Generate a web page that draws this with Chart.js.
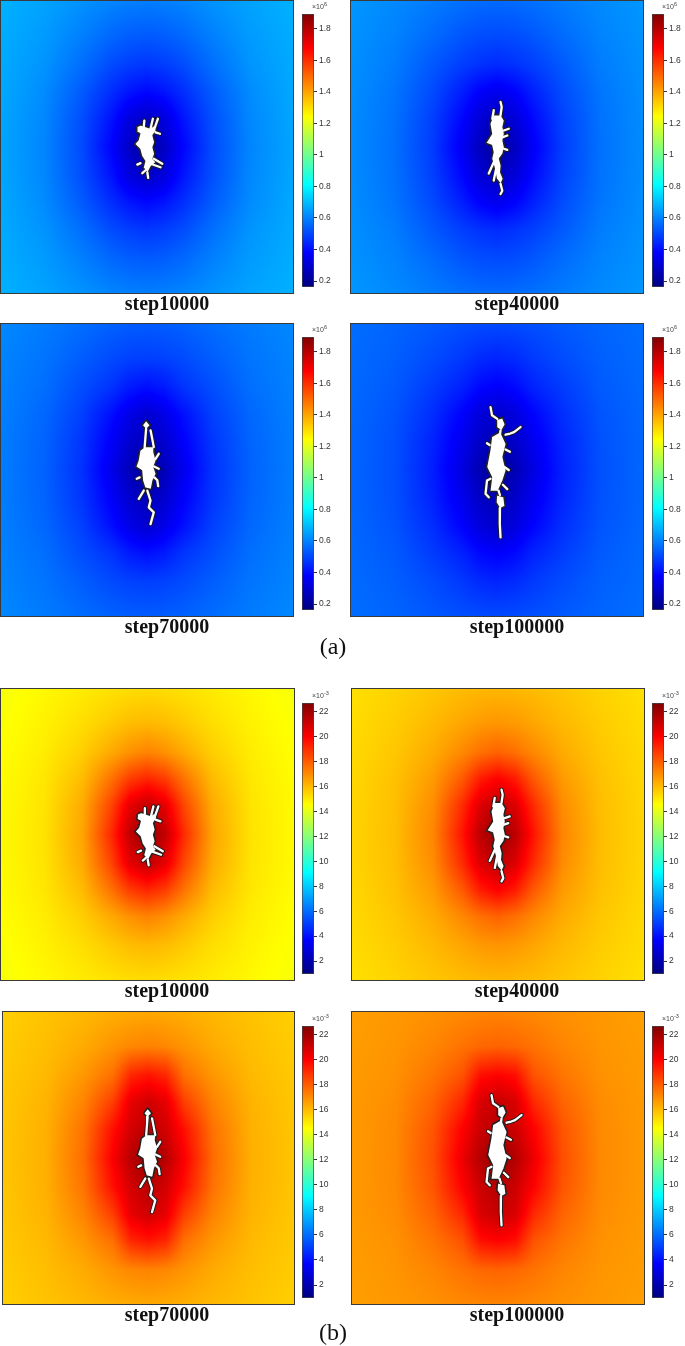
<!DOCTYPE html>
<html><head><meta charset="utf-8">
<script src="https://cdn.jsdelivr.net/npm/chart.js@4.4.1/dist/chart.umd.min.js"></script>
<style>
html,body{margin:0;padding:0;background:#fff;}
#fig{position:relative;width:685px;height:1346px;overflow:hidden;background:#fff;}
#fig canvas{position:absolute;}
.lab{position:absolute;width:335px;text-align:center;font-family:"Liberation Serif","Times New Roman",serif;font-weight:bold;font-size:20px;line-height:20px;color:#111;white-space:nowrap;}
.sub{position:absolute;width:80px;text-align:center;font-family:"Liberation Serif","Times New Roman",serif;font-size:24px;line-height:24px;color:#111;}
.exp{position:absolute;font-family:"Liberation Sans",Arial,sans-serif;font-size:7px;line-height:8px;color:#444;white-space:nowrap;}
.exp sup{font-size:5.5px;vertical-align:3px;line-height:0;}
</style></head><body><div id="fig"></div>
<script>
// ---------------- DATA ----------------
const stepLabels = ['step10000', 'step40000', 'step70000', 'step100000'];
const groupLabels = ['(a)', '(b)'];

// field sample grid (domain units, 0..100 across each panel)
const gridX = [0, 15, 28, 38, 44, 50, 56, 62, 72, 85, 100];
const gridY = [0, 12, 22, 31, 40, 50, 60, 69, 78, 88, 100];

// (a) field, x10^6
const stressStep10000 = [
  [0.68,0.656,0.628,0.605,0.598,0.593,0.598,0.605,0.628,0.656,0.68],
  [0.673,0.642,0.595,0.555,0.538,0.532,0.538,0.555,0.595,0.642,0.673],
  [0.669,0.63,0.565,0.505,0.482,0.47,0.482,0.505,0.565,0.63,0.669],
  [0.666,0.616,0.532,0.454,0.414,0.392,0.414,0.454,0.532,0.616,0.666],
  [0.662,0.609,0.511,0.41,0.326,0.286,0.326,0.41,0.511,0.609,0.662],
  [0.661,0.605,0.502,0.38,0.281,0.2,0.281,0.38,0.502,0.605,0.661],
  [0.662,0.609,0.511,0.41,0.326,0.286,0.326,0.41,0.511,0.609,0.662],
  [0.666,0.616,0.532,0.454,0.414,0.392,0.414,0.454,0.532,0.616,0.666],
  [0.669,0.63,0.565,0.505,0.482,0.47,0.482,0.505,0.565,0.63,0.669],
  [0.673,0.642,0.595,0.555,0.538,0.532,0.538,0.555,0.595,0.642,0.673],
  [0.68,0.656,0.628,0.605,0.598,0.593,0.598,0.605,0.628,0.656,0.68]
];
const stressStep40000 = [
  [0.635,0.613,0.589,0.57,0.563,0.558,0.563,0.57,0.589,0.613,0.635],
  [0.628,0.601,0.56,0.525,0.51,0.505,0.51,0.525,0.56,0.601,0.628],
  [0.624,0.59,0.529,0.483,0.462,0.45,0.462,0.483,0.529,0.59,0.624],
  [0.621,0.578,0.505,0.43,0.38,0.35,0.38,0.43,0.505,0.578,0.621],
  [0.618,0.572,0.488,0.39,0.313,0.276,0.313,0.39,0.488,0.572,0.618],
  [0.617,0.57,0.48,0.362,0.272,0.2,0.272,0.362,0.48,0.57,0.617],
  [0.618,0.572,0.488,0.39,0.313,0.276,0.313,0.39,0.488,0.572,0.618],
  [0.621,0.578,0.505,0.43,0.38,0.35,0.38,0.43,0.505,0.578,0.621],
  [0.624,0.59,0.529,0.483,0.462,0.45,0.462,0.483,0.529,0.59,0.624],
  [0.628,0.601,0.56,0.525,0.51,0.505,0.51,0.525,0.56,0.601,0.628],
  [0.635,0.613,0.589,0.57,0.563,0.558,0.563,0.57,0.589,0.613,0.635]
];
const stressStep70000 = [
  [0.61,0.588,0.564,0.545,0.538,0.534,0.538,0.545,0.564,0.588,0.61],
  [0.603,0.576,0.536,0.504,0.49,0.485,0.49,0.504,0.536,0.576,0.603],
  [0.599,0.566,0.508,0.463,0.42,0.40,0.42,0.463,0.508,0.566,0.599],
  [0.596,0.554,0.485,0.40,0.34,0.30,0.34,0.40,0.485,0.554,0.596],
  [0.593,0.548,0.468,0.37,0.30,0.266,0.30,0.37,0.468,0.548,0.593],
  [0.592,0.545,0.46,0.345,0.262,0.19,0.262,0.345,0.46,0.545,0.592],
  [0.593,0.548,0.468,0.37,0.30,0.266,0.30,0.37,0.468,0.548,0.593],
  [0.596,0.554,0.485,0.40,0.34,0.30,0.34,0.40,0.485,0.554,0.596],
  [0.599,0.566,0.508,0.463,0.42,0.40,0.42,0.463,0.508,0.566,0.599],
  [0.603,0.576,0.536,0.504,0.49,0.485,0.49,0.504,0.536,0.576,0.603],
  [0.61,0.588,0.564,0.545,0.538,0.534,0.538,0.545,0.564,0.588,0.61]
];
const stressStep100000 = [
  [0.565,0.549,0.53,0.514,0.508,0.505,0.508,0.514,0.53,0.549,0.565],
  [0.561,0.54,0.506,0.474,0.45,0.44,0.45,0.474,0.506,0.54,0.561],
  [0.557,0.531,0.478,0.433,0.39,0.37,0.39,0.433,0.478,0.531,0.557],
  [0.555,0.521,0.455,0.38,0.32,0.29,0.32,0.38,0.455,0.521,0.555],
  [0.553,0.516,0.438,0.35,0.287,0.256,0.287,0.35,0.438,0.516,0.553],
  [0.553,0.514,0.43,0.328,0.251,0.18,0.251,0.328,0.43,0.514,0.553],
  [0.553,0.516,0.438,0.35,0.287,0.256,0.287,0.35,0.438,0.516,0.553],
  [0.555,0.521,0.455,0.38,0.32,0.29,0.32,0.38,0.455,0.521,0.555],
  [0.557,0.531,0.478,0.433,0.39,0.37,0.39,0.433,0.478,0.531,0.557],
  [0.561,0.54,0.506,0.474,0.45,0.44,0.45,0.474,0.506,0.54,0.561],
  [0.565,0.549,0.53,0.514,0.508,0.505,0.508,0.514,0.53,0.549,0.565]
];

// (b) field, x10^-3
const strainStep10000 = [
  [14.35,14.69,14.96,15.16,15.23,15.29,15.23,15.16,14.96,14.69,14.35],
  [14.46,14.83,15.26,15.7,15.95,16.05,15.95,15.7,15.26,14.83,14.46],
  [14.54,14.95,15.6,16.4,16.9,17.2,16.9,16.4,15.6,14.95,14.54],
  [14.59,15.07,16.0,17.6,18.7,19.2,18.7,17.6,16.0,15.07,14.59],
  [14.63,15.13,16.35,18.6,20.5,21.25,20.5,18.6,16.35,15.13,14.63],
  [14.64,15.16,16.5,19.2,21.3,22.3,21.3,19.2,16.5,15.16,14.64],
  [14.63,15.13,16.35,18.6,20.5,21.25,20.5,18.6,16.35,15.13,14.63],
  [14.59,15.07,16.0,17.6,18.7,19.2,18.7,17.6,16.0,15.07,14.59],
  [14.54,14.95,15.6,16.4,16.9,17.2,16.9,16.4,15.6,14.95,14.54],
  [14.46,14.83,15.26,15.7,15.95,16.05,15.95,15.7,15.26,14.83,14.46],
  [14.35,14.69,14.96,15.16,15.23,15.29,15.23,15.16,14.96,14.69,14.35]
];
const strainStep40000 = [
  [15.2,15.49,15.76,15.96,16.03,16.08,16.03,15.96,15.76,15.49,15.2],
  [15.29,15.63,16.05,16.45,16.7,16.8,16.7,16.45,16.05,15.63,15.29],
  [15.35,15.75,16.35,17.1,17.6,17.9,17.6,17.1,16.35,15.75,15.35],
  [15.39,15.87,16.7,18.1,19.4,20.0,19.4,18.1,16.7,15.87,15.39],
  [15.43,15.93,17.0,19.1,20.7,21.35,20.7,19.1,17.0,15.93,15.43],
  [15.44,15.96,17.15,19.6,21.4,22.3,21.4,19.6,17.15,15.96,15.44],
  [15.43,15.93,17.0,19.1,20.7,21.35,20.7,19.1,17.0,15.93,15.43],
  [15.39,15.87,16.7,18.1,19.4,20.0,19.4,18.1,16.7,15.87,15.39],
  [15.35,15.75,16.35,17.1,17.6,17.9,17.6,17.1,16.35,15.75,15.35],
  [15.29,15.63,16.05,16.45,16.7,16.8,16.7,16.45,16.05,15.63,15.29],
  [15.2,15.49,15.76,15.96,16.03,16.08,16.03,15.96,15.76,15.49,15.2]
];
const strainStep70000 = [
  [15.55,15.83,16.06,16.26,16.33,16.39,16.33,16.26,16.06,15.83,15.55],
  [15.64,15.94,16.36,16.84,17.1,17.2,17.1,16.84,16.36,15.94,15.64],
  [15.7,16.05,16.78,17.65,19.2,19.6,19.2,17.65,16.78,16.05,15.7],
  [15.74,16.17,17.2,18.71,20.5,21.0,20.5,18.71,17.2,16.17,15.74],
  [15.77,16.23,17.55,19.7,20.89,21.44,20.89,19.7,17.55,16.23,15.77],
  [15.78,16.26,17.7,20.13,21.49,22.3,21.49,20.13,17.7,16.26,15.78],
  [15.77,16.23,17.55,19.7,20.89,21.44,20.89,19.7,17.55,16.23,15.77],
  [15.74,16.17,17.2,18.71,20.5,21.0,20.5,18.71,17.2,16.17,15.74],
  [15.7,16.05,16.78,17.65,19.2,19.6,19.2,17.65,16.78,16.05,15.7],
  [15.64,15.94,16.36,16.84,17.1,17.2,17.1,16.84,16.36,15.94,15.64],
  [15.55,15.83,16.06,16.26,16.33,16.39,16.33,16.26,16.06,15.83,15.55]
];
const strainStep100000 = [
  [16.6,16.75,16.9,17.06,17.12,17.18,17.12,17.06,16.9,16.75,16.6],
  [16.64,16.82,17.15,17.55,17.78,17.87,17.78,17.55,17.15,16.82,16.64],
  [16.68,16.89,17.5,18.27,19.7,20.0,19.7,18.27,17.5,16.89,16.68],
  [16.7,16.99,17.87,19.18,20.8,21.2,20.8,19.18,17.87,16.99,16.7],
  [16.71,17.04,18.19,20.0,21.05,21.54,21.05,20.0,18.19,17.04,16.71],
  [16.71,17.06,18.32,20.38,21.58,22.3,21.58,20.38,18.32,17.06,16.71],
  [16.71,17.04,18.19,20.0,21.05,21.54,21.05,20.0,18.19,17.04,16.71],
  [16.7,16.99,17.87,19.18,20.8,21.2,20.8,19.18,17.87,16.99,16.7],
  [16.68,16.89,17.5,18.27,19.7,20.0,19.7,18.27,17.5,16.89,16.68],
  [16.64,16.82,17.15,17.55,17.78,17.87,17.78,17.55,17.15,16.82,16.64],
  [16.6,16.75,16.9,17.06,17.12,17.18,17.12,17.06,16.9,16.75,16.6]
];

// colour-bar ranges and ticks
const stressRange = [0.163, 1.893];
const stressTicks = [0.2, 0.4, 0.6, 0.8, 1, 1.2, 1.4, 1.6, 1.8];
const stressTickLabels = ['0.2', '0.4', '0.6', '0.8', '1', '1.2', '1.4', '1.6', '1.8'];
const strainRange = [0.97, 22.7];
const strainTicks = [2, 4, 6, 8, 10, 12, 14, 16, 18, 20, 22];
const strainTickLabels = ['2', '4', '6', '8', '10', '12', '14', '16', '18', '20', '22'];

// crack geometry (domain units)
const crack10000Bodies = [
  [[46.5,43.0],[47.8,42.4],[51.2,43.5],[52.5,42.5],[53.2,44.4],[52.1,46.1],[52.7,48.4],[52.1,50.1],[52.7,52.3],[52.1,54.0],[53.2,55.2],[51.5,56.6],[50.3,58.9],[48.6,57.1],[49.2,54.8],[48.1,53.1],[47.5,50.8],[45.7,49.0],[46.9,47.6],[47.5,45.5],[46.4,44.9]]
];
const crack10000Branches = [
  [[48.9,43.2],[49.1,41.0]], [[51.2,43.8],[52.0,40.4]], [[52.3,44.4],[53.7,40.4]],
  [[51.2,55.7],[54.6,56.9]], [[50.1,57.4],[48.4,58.9]], [[50.1,58.6],[50.4,60.5]],
  [[52.3,54.0],[55.2,55.7]], [[47.8,55.5],[46.7,56.0]], [[52.9,45.0],[54.4,45.5]]
];
const crack40000Bodies = [
  [[48.7,39.0],[51.4,39.0],[52.6,41.0],[52.1,43.2],[52.6,45.5],[52.1,47.8],[52.6,50.1],[52.1,52.3],[50.9,54.0],[51.5,56.3],[51.3,58.6],[52.2,60.8],[51.3,62.8],[49.7,60.8],[49.2,58.0],[48.6,55.7],[48.1,54.0],[48.6,51.8],[48.1,49.5],[46.1,48.7],[48.1,45.5],[47.5,42.1]]
];
const crack40000Branches = [
  [[51.2,39.2],[51.6,36.4],[51.2,34.7]], [[48.4,40.4],[48.9,37.5]], [[48.9,55.2],[47.2,59.0]],
  [[49.8,56.9],[48.9,61.4]], [[52.3,44.4],[54.0,43.8]], [[51.8,46.7],[53.5,46.1]],
  [[52.3,50.6],[53.5,51.0]], [[51.2,62.5],[51.8,64.9],[51.2,66.0]]
];
const crack70000Bodies = [
  [[47.5,43.3],[49.2,42.0],[50.6,41.9],[52.6,42.0],[52.4,43.9],[53.2,46.8],[52.4,49.0],[53.2,51.3],[52.1,53.6],[51.5,56.7],[49.2,56.1],[48.4,53.6],[48.1,50.2],[46.1,49.0],[46.9,46.8]],
  [[48.3,34.8],[49.7,33.0],[51.2,34.8],[49.7,36.4]]
];
const crack70000Branches = [
  [[49.7,36.0],[49.5,38.5],[49.2,42.3]], [[51.2,36.5],[51.8,39.5],[52.3,42.2]],
  [[50.1,57.0],[51.2,60.4],[50.6,62.7],[52.3,64.4],[51.2,68.4]], [[48.9,57.0],[47.2,59.8]],
  [[52.9,46.2],[54.0,44.5]], [[52.4,48.8],[54.0,49.6]], [[52.5,52.5],[53.5,53.5],[53.8,55.5]],
  [[47.5,52.5],[46.5,53.0]]
];
const crack100000Bodies = [
  [[48.1,38.6],[51.2,36.8],[53.2,41.1],[52.1,45.6],[53.2,50.2],[52.1,53.6],[50.4,57.3],[47.5,57.3],[48.1,52.5],[46.4,49.0],[47.5,43.3]],
  [[49.8,32.8],[51.9,32.1],[52.9,34.5],[51.6,36.8],[49.8,35.6]],
  [[49.8,58.3],[52.4,59.1],[52.8,62.3],[51.0,63.3],[49.6,61.0]]
];
const crack100000Branches = [
  [[50.1,32.6],[48.3,31.4],[47.8,28.6]], [[52.9,38.0],[54.5,37.6],[55.8,37.1],[58.0,35.4]],
  [[51.0,63.0],[51.0,66.0],[50.9,68.4],[51.2,72.9]], [[47.8,53.0],[46.6,53.6],[46.1,58.1],[47.2,59.3]],
  [[52.9,43.0],[54.4,43.8]], [[52.5,49.0],[54.0,50.0]], [[47.5,41.5],[46.6,40.9]],
  [[52.0,55.0],[53.5,56.5]], [[51.2,36.5],[51.0,38.0]], [[50.5,57.0],[51.0,58.5]]
];

// ---------------- RENDERING ----------------
const fig = document.getElementById('fig');
const clamp01 = v => Math.max(0, Math.min(1, v));
function jet(f) {
  f = clamp01(f);
  const c = x => clamp01(1.5 - Math.abs(x));
  return [Math.round(c(4 * f - 3) * 255), Math.round(c(4 * f - 2) * 255), Math.round(c(4 * f - 1) * 255)];
}
const jetStops = [0, 0.125, 0.375, 0.625, 0.875, 1];

function locate(grid, v) {
  let i = 0;
  while (i < grid.length - 2 && v > grid[i + 1]) i++;
  const t = clamp01((v - grid[i]) / (grid[i + 1] - grid[i]));
  return [i, t];
}

const heatPlugin = {
  id: 'heat',
  beforeDatasetsDraw(chart, args, opts) {
    const {ctx, chartArea: a, scales} = chart;
    const w = Math.round(a.right - a.left), h = Math.round(a.bottom - a.top);
    const off = document.createElement('canvas');
    off.width = w; off.height = h;
    const octx = off.getContext('2d');
    const img = octx.createImageData(w, h);
    const M = opts.matrix, lo = opts.range[0], hi = opts.range[1];
    const cols = [], rows = [];
    for (let px = 0; px < w; px++) cols.push(locate(gridX, scales.x.getValueForPixel(a.left + px + 0.5)));
    for (let py = 0; py < h; py++) rows.push(locate(gridY, scales.y.getValueForPixel(a.top + py + 0.5)));
    let k = 0;
    for (let py = 0; py < h; py++) {
      const [j, u] = rows[py];
      const r0 = M[j], r1 = M[j + 1];
      for (let px = 0; px < w; px++) {
        const [i, t] = cols[px];
        const v = (r0[i] * (1 - t) + r0[i + 1] * t) * (1 - u) + (r1[i] * (1 - t) + r1[i + 1] * t) * u;
        const c = jet((v - lo) / (hi - lo));
        img.data[k++] = c[0]; img.data[k++] = c[1]; img.data[k++] = c[2]; img.data[k++] = 255;
      }
    }
    octx.putImageData(img, 0, 0);
    ctx.save();
    ctx.drawImage(off, a.left, a.top);
    ctx.restore();
  },
  afterDatasetsDraw(chart) {
    const {ctx, chartArea: a} = chart;
    ctx.save();
    ctx.strokeStyle = '#3a3a3a';
    ctx.lineWidth = 1;
    ctx.strokeRect(a.left + 0.5, a.top + 0.5, a.right - a.left - 1, a.bottom - a.top - 1);
    ctx.restore();
  }
};

function crackDatasets(bodies, branches) {
  const pts = arr => arr.map(p => ({x: p[0], y: p[1]}));
  const ds = [];
  branches.forEach(b => ds.push({data: pts(b), borderColor: '#1c1c1c', borderWidth: 4.2, pointRadius: 0,
    fill: false, order: 1, borderCapStyle: 'round', borderJoinStyle: 'round'}));
  bodies.forEach(b => ds.push({data: pts(b.concat([b[0]])), borderColor: '#222', borderWidth: 1.6,
    backgroundColor: '#ffffff', fill: 'shape', pointRadius: 0, order: 0, borderJoinStyle: 'round'}));
  branches.forEach(b => ds.push({data: pts(b), borderColor: '#ffffff', borderWidth: 2.3, pointRadius: 0,
    fill: false, order: -1, borderCapStyle: 'round', borderJoinStyle: 'round'}));
  return ds;
}

function addCanvas(left, top, w, h) {
  const c = document.createElement('canvas');
  c.width = w; c.height = h;
  c.style.left = left + 'px'; c.style.top = top + 'px';
  c.style.width = w + 'px'; c.style.height = h + 'px';
  fig.appendChild(c);
  return c;
}

function addHeat(p, matrix, range, bodies, branches) {
  const c = addCanvas(p.l, p.t, p.w, p.h);
  new Chart(c, {
    type: 'line',
    data: {datasets: crackDatasets(bodies, branches)},
    options: {
      responsive: false, animation: false, events: [],
      layout: {padding: 0},
      scales: {
        x: {type: 'linear', min: 0, max: 100, display: false},
        y: {type: 'linear', min: 0, max: 100, reverse: true, display: false}
      },
      plugins: {legend: {display: false}, tooltip: {enabled: false}, heat: {matrix, range}}
    },
    plugins: [heatPlugin]
  });
}

function addColorbar(left, top, h, range, ticks, labels, expHtml, padTop, padBottom) {
  const w = 40;
  const c = addCanvas(left, top, w, h);
  new Chart(c, {
    type: 'bar',
    data: {labels: [''], datasets: [{
      data: [[range[0], range[1]]],
      backgroundColor(ctx) {
        const chart = ctx.chart, y = chart.scales.y;
        if (!chart.chartArea || !y) return '#000080';
        const g = chart.ctx.createLinearGradient(0, y.getPixelForValue(range[0]), 0, y.getPixelForValue(range[1]));
        jetStops.forEach(s => { const cc = jet(s); g.addColorStop(s, `rgb(${cc[0]},${cc[1]},${cc[2]})`); });
        return g;
      },
      borderColor: '#444', borderWidth: 1, borderSkipped: false,
      barPercentage: 1, categoryPercentage: 1
    }]},
    options: {
      responsive: false, animation: false, events: [],
      layout: {padding: {top: padTop, bottom: padBottom, left: 0, right: 0}},
      scales: {
        x: {display: false},
        y: {
          position: 'right', min: range[0], max: range[1],
          afterFit(s) { s.width = 28; },
          afterBuildTicks(s) { s.ticks = ticks.map(v => ({value: v})); },
          ticks: {
            autoSkip: false, padding: 2, color: '#333',
            font: {family: '"Liberation Sans", Arial, sans-serif', size: 8.5},
            callback(v) { const i = ticks.indexOf(v); return i >= 0 ? labels[i] : ''; }
          },
          grid: {drawOnChartArea: false, tickLength: 3, color: '#333'},
          border: {display: false}
        }
      },
      plugins: {legend: {display: false}, tooltip: {enabled: false}}
    }
  });
  const e = document.createElement('div');
  e.className = 'exp';
  e.innerHTML = expHtml;
  e.style.left = (left + 10) + 'px';
  e.style.top = (top + padTop - 11) + 'px';
  fig.appendChild(e);
}

function addLabel(cls, text, centerX, baseline, width, asc) {
  const d = document.createElement('div');
  d.className = cls;
  d.textContent = text;
  d.style.left = (centerX - width / 2) + 'px';
  d.style.top = (baseline - asc) + 'px';
  fig.appendChild(d);
}

const panelsA = [{l: 0, t: 0, w: 294, h: 294}, {l: 350, t: 0, w: 294, h: 294},
                 {l: 0, t: 323, w: 294, h: 294}, {l: 350, t: 323, w: 294, h: 294}];
const panelsB = [{l: 0, t: 688, w: 295, h: 293}, {l: 351, t: 688, w: 294, h: 293},
                 {l: 2, t: 1011, w: 293, h: 294}, {l: 351, t: 1011, w: 294, h: 294}];
const colorbarLeft = [302, 652];

const stressFields = [stressStep10000, stressStep40000, stressStep70000, stressStep100000];
const strainFields = [strainStep10000, strainStep40000, strainStep70000, strainStep100000];
const crackBodies = [crack10000Bodies, crack40000Bodies, crack70000Bodies, crack100000Bodies];
const crackBranches = [crack10000Branches, crack40000Branches, crack70000Branches, crack100000Branches];

panelsA.forEach((p, i) => {
  addHeat(p, stressFields[i], stressRange, crackBodies[i], crackBranches[i]);
  addColorbar(colorbarLeft[i % 2], p.t, p.h, stressRange, stressTicks, stressTickLabels, '×10<sup>6</sup>', 14, 2);
  addLabel('lab', stepLabels[i], (i % 2 ? 350 : 0) + 167, p.t + p.h + 16, 335, 16.75);
});
panelsB.forEach((p, i) => {
  addHeat(p, strainFields[i], strainRange, crackBodies[i], crackBranches[i]);
  addColorbar(colorbarLeft[i % 2], p.t, p.h, strainRange, strainTicks, strainTickLabels, '×10<sup>-3</sup>', 15, 3);
  addLabel('lab', stepLabels[i], (i % 2 ? 350 : 0) + 167, p.t + p.h + 16, 335, 16.75);
});
addLabel('sub', groupLabels[0], 333, 654, 80, 20.1);
addLabel('sub', groupLabels[1], 333, 1340, 80, 20.1);
</script>
</body></html>
